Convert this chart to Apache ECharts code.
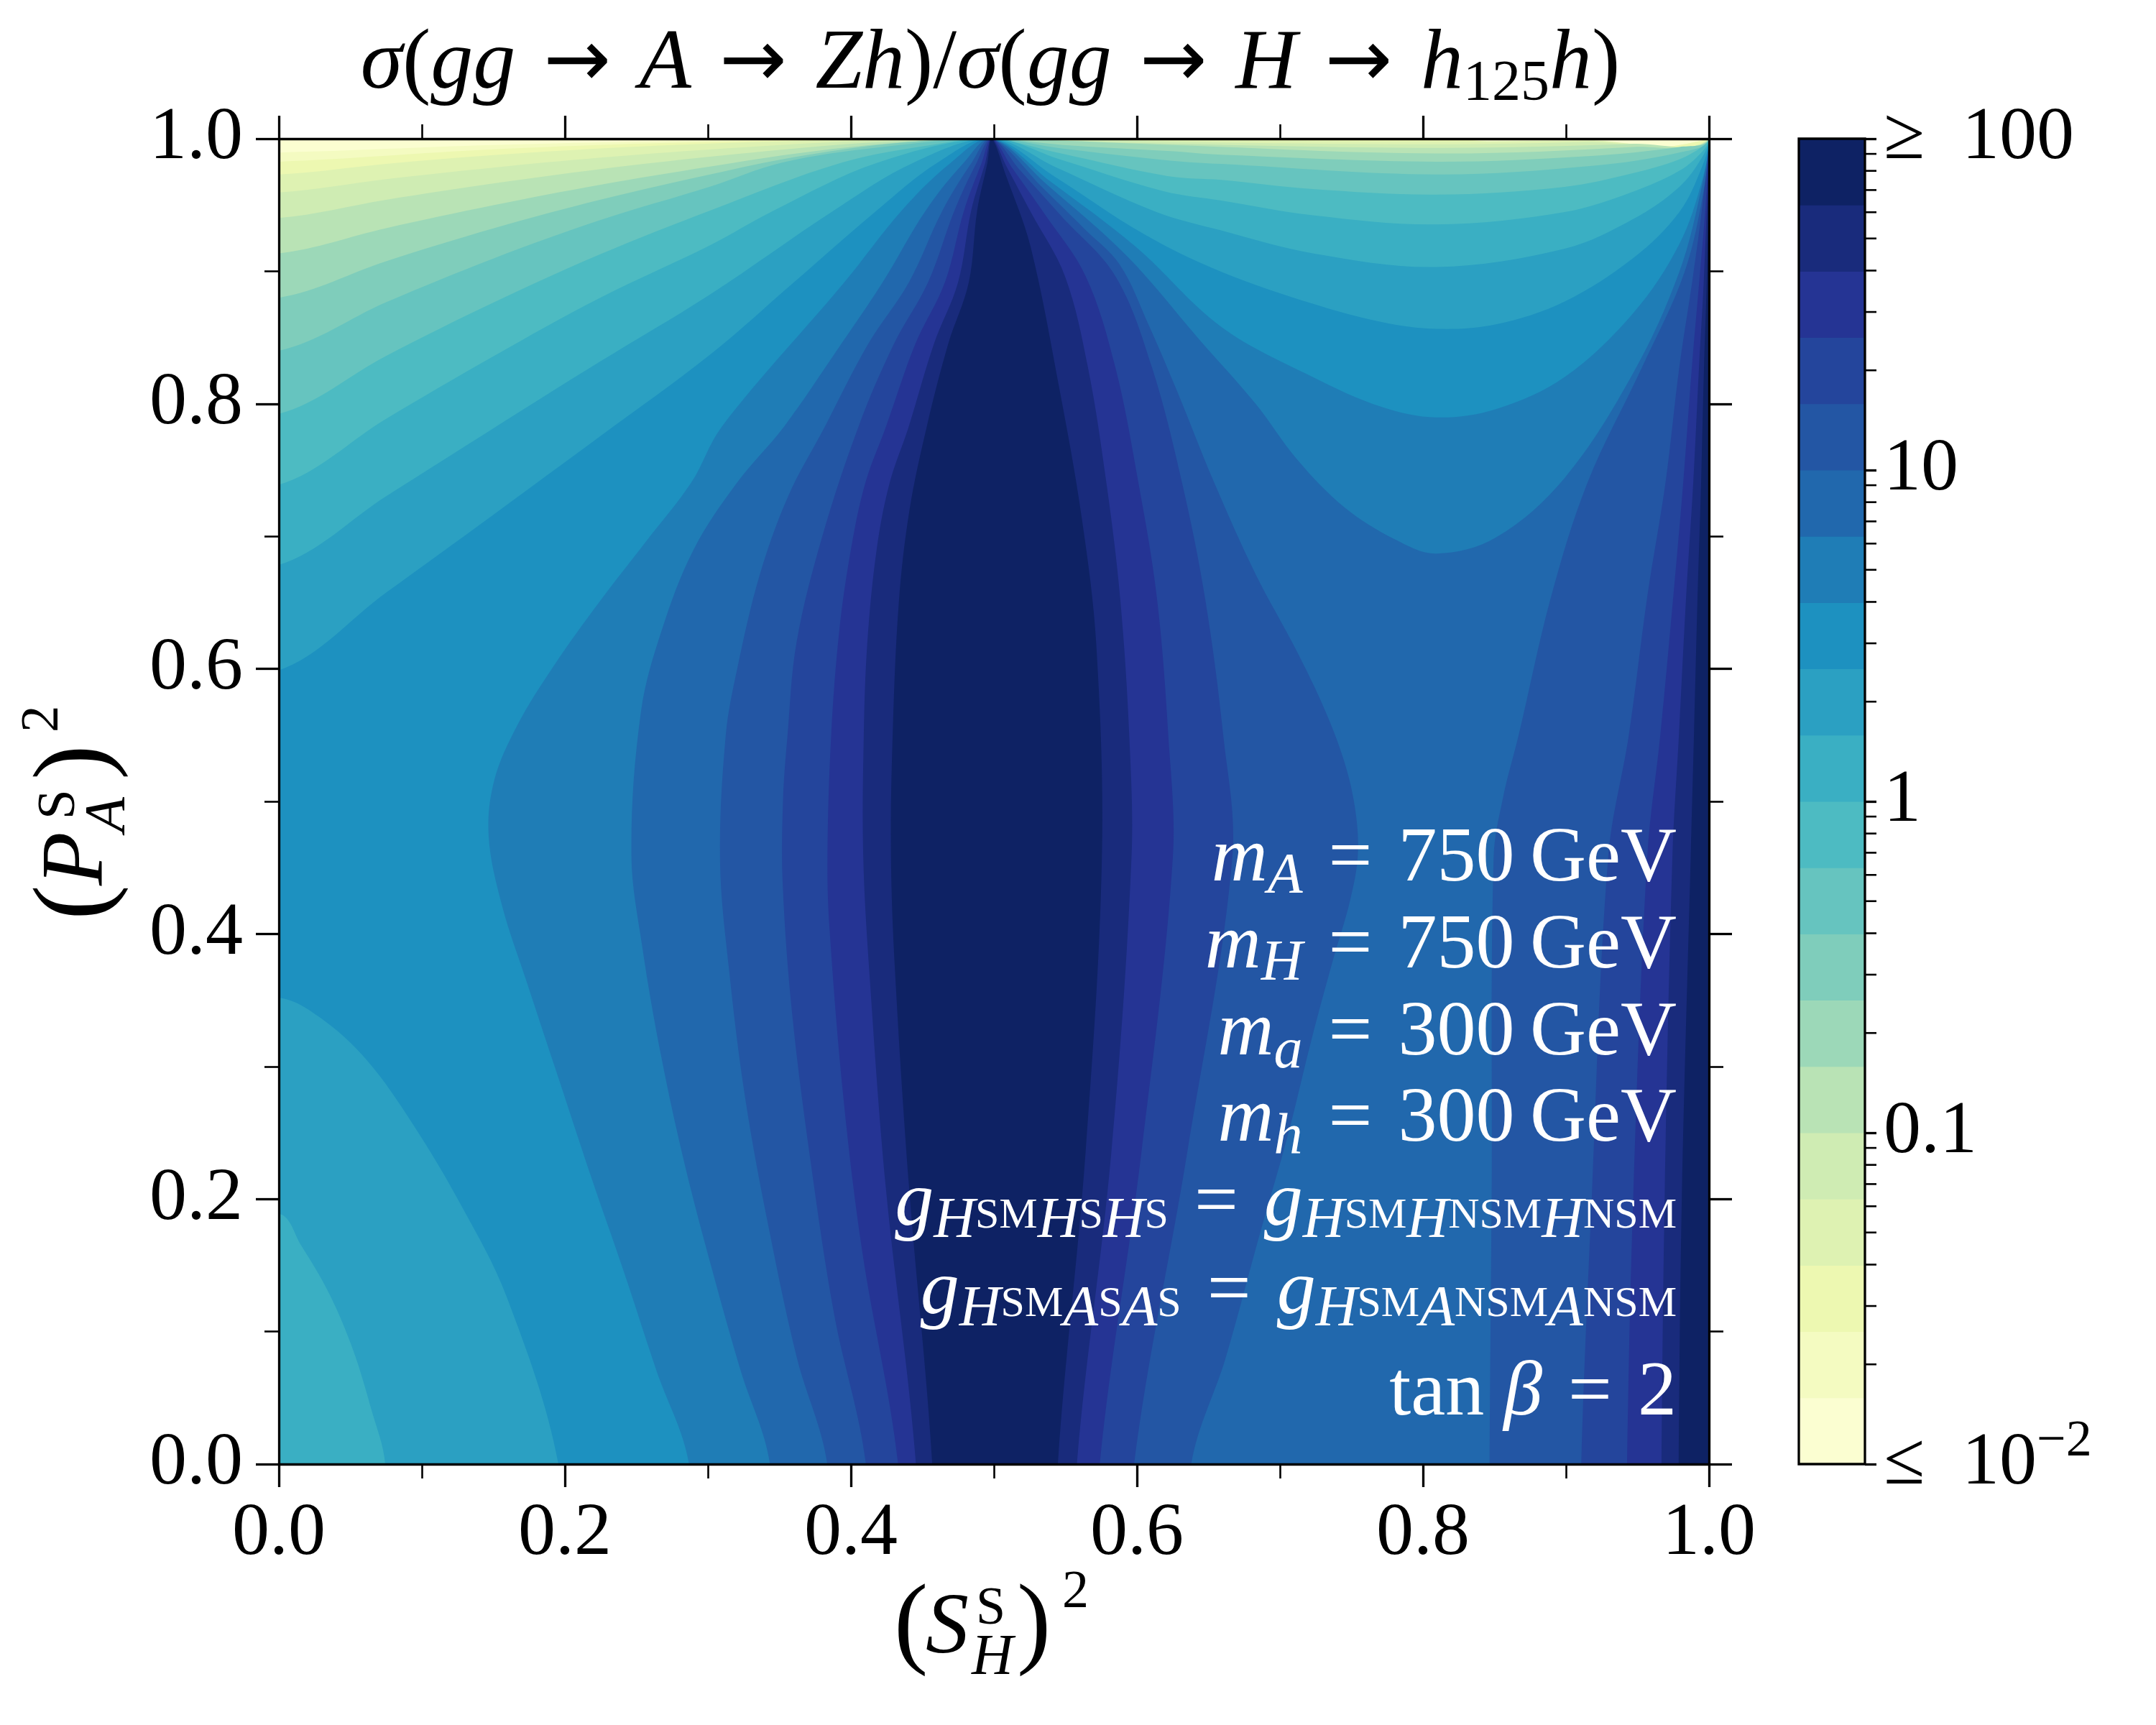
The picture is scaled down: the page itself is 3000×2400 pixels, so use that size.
<!DOCTYPE html>
<html><head><meta charset="utf-8">
<script src="https://cdn.jsdelivr.net/npm/echarts@6/dist/echarts.min.js"></script>
<style>html,body{margin:0;padding:0;background:#fff}#c{width:3000px;height:2400px}</style>
</head><body><div id="c"></div>
<script>
// ---------------- data ----------------
// 20 colour bands of the filled contour plot (lowest -> highest)
const bandColors = ['#fbfed1','#f4fbc1','#edf8b1','#def2b2','#cfecb3','#b9e3b5','#9cd8b8','#7fcdbb','#66c4bf','#4dbbc2',
  '#3aafc3','#2ba0c2','#1d91c0','#1f7db6','#2168ad','#2356a4','#24459c','#253494','#192b7c','#0e2264'];
// contour levels, log10 of the ratio
const cbLevels = [-2,-1.8,-1.6,-1.4,-1.2,-1,-0.8,-0.6,-0.4,-0.2,0,0.2,0.4,0.6,0.8,1,1.2,1.4,1.6,1.8,2];
const cbMinor = [0.02,0.03,0.04,0.05,0.06,0.07,0.08,0.09,0.2,0.3,0.4,0.5,0.6,0.7,0.8,0.9,2,3,4,5,6,7,8,9,20,30,40,50,60,70,80,90];
const cbTickLabels = ['\u2264\u200210','0.1','1','10','\u2265\u2002100'];

// contour k = boundary between band k-1 and band k, as (x, y) points
// left fan: left edge -> singular point (0.5,1)
const L1 = [[0,.9896],[.15,.9952],[.3015,.9986],[.4985,1]];
const L2 = [[0,.9827],[.15,.992],[.3015,.9977],[.4985,1]];
const L3 = [[0,.973],[.075,.981],[.15,.9876],[.225,.9927],[.3015,.9964],[.4,.9992],[.4985,1]];
const L4 = [[0,.9595],[.075,.9695],[.15,.9782],[.225,.9857],[.3015,.9919],[.4,.998],[.4985,1]];
const L5 = [[0,.9402],[.075,.9539],[.15,.9662],[.225,.9771],[.3015,.9864],[.38,.9945],[.44,.9985],[.4985,1]];
const L6 = [[0,.9135],[.075,.9325],[.15,.9498],[.225,.9653],[.3015,.979],[.37,.99],[.44,.9975],[.4985,1]];
const L7 = [[0,.88],[.075,.9075],[.15,.9323],[.225,.954],[.3015,.973],[.36,.986],[.43,.9965],[.4985,1]];
const L8 = [[0,.84],[.075,.8766],[.15,.9096],[.225,.9387],[.3015,.9638],[.3518,.982],[.42,.9935],[.4985,1]];
const L9 = [[0,.7925],[.075,.8361],[.15,.8763],[.225,.9129],[.3015,.9458],[.3936,.982],[.46,.996],[.4985,1]];
const L10 = [[0,.7389],[.075,.7886],[.15,.8358],[.225,.8801],[.3015,.9196],[.346,.9458],[.4188,.982],[.4985,1]];
const L11 = [[0,.6784],[.075,.7302],[.15,.7815],[.225,.8321],[.3015,.8825],[.388,.9458],[.4439,.982],[.4985,1]];
const L12 = [[0,.5988],[.075,.6575],[.15,.7163],[.225,.7757],[.3015,.837],[.36,.8915],[.418,.9458],[.4606,.982],[.4985,1]];
// left of the central strip: bottom edge -> (0.5,1)
const L13 = [[.2868,0],[.264,.0706],[.2412,.1453],[.2183,.2169],[.1954,.2917],[.1725,.3664],[.156,.4217],[.1467,.4737],[.1506,.5158],[.1667,.5573],[.1923,.6023],[.2243,.6507],[.2564,.6956],[.2884,.7406],[.3099,.783],[.3953,.8915],[.4355,.9458],[.47,.982],[.4985,1]];
const L14 = [[.3434,0],[.3229,.0706],[.3033,.1453],[.2837,.2266],[.2673,.308],[.2543,.389],[.2465,.46],[.2532,.5677],[.268,.63],[.29,.69],[.32,.74],[.3534,.783],[.39,.84],[.4221,.8915],[.4523,.9458],[.479,.982],[.4985,1]];
const L15 = [[.3835,0],[.3622,.0803],[.3426,.178],[.3262,.2754],[.3148,.373],[.3085,.455],[.3125,.55],[.3205,.60],[.336,.67],[.356,.73],[.3819,.783],[.412,.845],[.4405,.8915],[.464,.9458],[.4845,.982],[.4985,1]];
const L16 = [[.4105,0],[.3883,.113],[.372,.227],[.3589,.34],[.3523,.438],[.3525,.5],[.3557,.55],[.362,.62],[.38,.70],[.4054,.783],[.43,.845],[.4539,.8915],[.4724,.9458],[.488,.982],[.4985,1]];
const L17 = [[.433,0],[.408,.16],[.3949,.275],[.385,.405],[.3836,.458],[.3862,.55],[.392,.63],[.4,.69],[.41,.74],[.4246,.783],[.445,.845],[.4657,.8915],[.4791,.9458],[.4915,.982],[.4985,1]];
const L18 = [[.4455,0],[.4243,.21],[.4128,.373],[.4086,.46],[.409,.55],[.4115,.62],[.418,.69],[.427,.74],[.4405,.783],[.458,.845],[.4749,.8915],[.4841,.9458],[.494,.982],[.4985,1]];
const L19 = [[.4569,0],[.4406,.21],[.4308,.373],[.428,.46],[.4292,.55],[.4335,.65],[.441,.72],[.4531,.783],[.468,.845],[.4824,.8915],[.4883,.9458],[.4955,.982],[.4985,1]];
// lower-left arcs: left edge -> bottom edge
const A11 = [[0,.189],[.0156,.165],[.035,.129],[.0516,.087],[.0646,.0415],[.0744,0]];
const A12 = [[0,.352],[.0287,.337],[.0613,.305],[.094,.256],[.1266,.197],[.1594,.126],[.1955,0]];
// right of the central strip: bottom edge -> (0.5,1)
const M15 = [[.638,0],[.662,.08],[.685,.17],[.706,.25],[.722,.32],[.737,.38],[.749,.425],[.7545,.46],[.7525,.495],[.745,.53],[.731,.57],[.711,.615],[.683,.6714],[.654,.7406],[.628,.8098],[.608,.86],[.588,.905],[.5633,.932],[.5347,.9623],[.4985,1]];
const M16 = [[.598,0],[.635,.234],[.6667,.4577],[.6603,.5504],[.6475,.6541],[.6315,.7406],[.6106,.8271],[.585,.8962],[.5473,.9414],[.5186,.9758],[.4985,1]];
const M17 = [[.574,0],[.603,.234],[.6251,.4577],[.6219,.5504],[.6139,.6541],[.601,.7406],[.585,.8271],[.5642,.8962],[.5352,.9436],[.5129,.9778],[.4985,1]];
const M18 = [[.558,0],[.582,.234],[.5962,.4577],[.5946,.5504],[.5882,.6541],[.5786,.7406],[.5658,.8271],[.5497,.8962],[.5256,.945],[.5091,.9785],[.4985,1]];
const M19 = [[.5447,0],[.564,.234],[.5755,.458],[.5716,.618],[.5614,.714],[.546,.81],[.5255,.919],[.5085,.972],[.4985,1]];
// U-shaped contours in the upper right: (0.5,1) -> (1,1)
const U3 = [[.4985,1],[.6588,.9988],[.8094,.9979],[.9152,.9988],[1,1]];
const U4 = [[.4985,1],[.6588,.9972],[.8094,.9958],[.9152,.9976],[1,1]];
const U5 = [[.4985,1],[.5946,.9969],[.8094,.9931],[.9472,.9962],[1,1]];
const U6 = [[.4985,1],[.6241,.9953],[.8094,.9889],[.9472,.9938],[1,1]];
const U7 = [[.4985,1],[.5486,.9953],[.6236,.9906],[.6588,.9879],[.8094,.9827],[.9152,.9869],[.9793,.9938],[1,1]];
const U8 = [[.4985,1],[.5482,.9925],[.6231,.9835],[.6588,.981],[.8094,.973],[.9152,.9792],[.9793,.9896],[1,1]];
const U9 = [[.4985,1],[.5476,.9887],[.6214,.9718],[.6588,.9689],[.7229,.962],[.8094,.9578],[.8991,.9637],[.9472,.9741],[.9793,.9844],[.9953,.994],[1,1]];
const U10 = [[.4985,1],[.5465,.9843],[.6186,.9604],[.6588,.9533],[.7229,.9422],[.8094,.9353],[.8991,.9447],[.9472,.9602],[.9793,.9758],[.9953,.9903],[1,1]];
const U11 = [[.4985,1],[.5442,.978],[.613,.945],[.6588,.9308],[.7229,.9135],[.8094,.9032],[.8991,.917],[.9472,.9395],[.9793,.9637],[.9953,.9862],[1,1]];
const U12 = [[.4985,1],[.5417,.972],[.605,.928],[.6588,.8997],[.7229,.8755],[.7709,.8617],[.8094,.8565],[.851,.8599],[.8991,.8772],[.9472,.9101],[.9793,.9447],[.9953,.9792],[1,1]];
const U13 = [[.4985,1],[.5392,.968],[.599,.9186],[.6588,.8582],[.7229,.8202],[.7709,.7977],[.8094,.7897],[.851,.796],[.8991,.8202],[.9472,.8686],[.9793,.9205],[.9953,.9689],[1,1]];
const U14 = [[.4985,1],[.5372,.9653],[.5934,.911],[.6432,.849],[.683,.80],[.712,.758],[.745,.722],[.78,.698],[.8094,.687],[.851,.6991],[.8991,.7441],[.9472,.8236],[.9793,.8997],[.9953,.9654],[1,1]];
// near the right edge: bottom edge -> (1,1)
const E15 = [[.8466,0],[.848,.2],[.8494,.4577],[.856,.503],[.867,.5504],[.8895,.6541],[.9151,.7406],[.953,.8271],[.983,.8997],[.997,.9654],[1,1]];
const E16 = [[.9107,0],[.918,.2],[.9295,.4577],[.944,.5504],[.9568,.6541],[.9696,.7406],[.9792,.8271],[.9888,.8962],[.9952,.9481],[1,1]];
const E17 = [[.9427,0],[.947,.2],[.9568,.4577],[.966,.5504],[.975,.6541],[.982,.7406],[.988,.8271],[.9935,.8962],[.9975,.9481],[1,1]];
const E18 = [[.9668,0],[.969,.2],[.9744,.4577],[.979,.5504],[.984,.6541],[.989,.7406],[.993,.8271],[.9965,.8962],[1,1]];
const E19 = [[.9788,0],[.981,.2],[.9872,.4577],[.9895,.5504],[.992,.6541],[.9945,.7406],[.9965,.8271],[.9985,.8962],[1,1]];

// ---------------- build superlevel regions ----------------
const Lc = [null,L1,L2,L3,L4,L5,L6,L7,L8,L9,L10,L11,L12,L13,L14,L15,L16,L17,L18,L19];
const Uc = {3:U3,4:U4,5:U5,6:U6,7:U7,8:U8,9:U9,10:U10,11:U11,12:U12,13:U13,14:U14};
const Mc = {15:M15,16:M16,17:M17,18:M18,19:M19};
const Ec = {15:E15,16:E16,17:E17,18:E18,19:E19};
const Ac = {11:A11,12:A12};
const PAD = 0.08;
function buildRegions(){
  const regs = [];
  const rightOut = [[1, 1 + PAD], [1 + PAD, 1 + PAD], [1 + PAD, -PAD]];
  for (let k = 1; k <= 19; k++) {
    const color = bandColors[k];
    const L = Lc[k];
    if (k >= 15) {
      const M = Mc[k], E = Ec[k];
      regs.push({color, pts: [[L[0][0], -PAD], ...L, ...M.slice(0, -1).reverse(), [M[0][0], -PAD]]});
      regs.push({color, pts: [[E[0][0], -PAD], ...E, ...rightOut]});
    } else {
      const pts = [];
      const fromLeft = L[0][0] === 0;
      if (fromLeft) pts.push([-PAD, L[0][1]]); else pts.push([L[0][0], -PAD]);
      pts.push(...L);
      if (Uc[k]) pts.push(...Uc[k].slice(1)); else pts.push([0.75, 1.004], [1, 1]);
      pts.push(...rightOut);
      if (Ac[k]) {
        const a = Ac[k];
        pts.push([a[a.length - 1][0], -PAD], ...a.slice().reverse(), [-PAD, a[0][1]]);
      } else if (fromLeft) pts.push([-PAD, -PAD]);
      regs.push({color, pts});
    }
  }
  return regs;
}
const regions = buildRegions();

// ---------------- chart ----------------
const F = 'Liberation Serif';
const chart = echarts.init(document.getElementById('c'), null, {renderer: 'canvas'});

function mainAxis(pos, labels, isX) {
  return {
    type: 'value', gridIndex: 0, min: 0, max: 1, interval: 0.2, position: pos, z: 10,
    axisLine: {show: true, onZero: false, lineStyle: {color: '#000', width: 3.3}},
    axisTick: {show: true, length: 32, lineStyle: {color: '#000', width: 3.3}},
    minorTick: {show: true, splitNumber: 2, length: 20, lineStyle: {color: '#000', width: 2.6}},
    splitLine: {show: false}, minorSplitLine: {show: false},
    axisLabel: {show: labels, margin: isX ? 46 : 50, fontFamily: F, fontSize: 104, color: '#000',
      showMinLabel: true, showMaxLabel: true, formatter: v => v.toFixed(1)}
  };
}

const annRich = {
  mi: {fontFamily: F, fontStyle: 'italic', fontSize: 108, lineHeight: 121, fill: '#fff'},
  rm: {fontFamily: F, fontSize: 108, lineHeight: 121, fill: '#fff'},
  sub: {fontFamily: F, fontStyle: 'italic', fontSize: 80, height: 72, verticalAlign: 'bottom', fill: '#fff'},
  ss: {fontFamily: F, fontSize: 60, height: 88, verticalAlign: 'bottom', fill: '#fff'}
};
const EQ = ' \u200a=\u200a ';
const annLines = [
  '{mi|m}{sub|A}{rm|' + EQ + '750\u2009GeV}',
  '{mi|m}{sub|H}{rm|' + EQ + '750\u2009GeV}',
  '{mi|m}{sub|a}{rm|' + EQ + '300\u2009GeV}',
  '{mi|m}{sub|h}{rm|' + EQ + '300\u2009GeV}',
  '{mi|g}{sub|H}{ss|SM}{sub|H}{ss|S}{sub|H}{ss|S}{rm|' + EQ + '}{mi|g}{sub|H}{ss|SM}{sub|H}{ss|NSM}{sub|H}{ss|NSM}',
  '{mi|g}{sub|H}{ss|SM}{sub|A}{ss|S}{sub|A}{ss|S}{rm|' + EQ + '}{mi|g}{sub|H}{ss|SM}{sub|A}{ss|NSM}{sub|A}{ss|NSM}',
  '{rm|tan }{mi|\u03b2}{rm|' + EQ + '2}'
];
const annBaselines = [1233, 1354.6, 1475.7, 1595.6, 1712.5, 1835.4, 1976.3];

function txt(x, y, text, size, italic) {
  return {type: 'text', x, y, silent: true, style: {text, fontFamily: F, fontSize: size,
    fontStyle: italic ? 'italic' : 'normal', fill: '#000', align: 'left', verticalAlign: 'middle'}};
}

const graphics = [];
// title
const AR = '{rm| \u200a}{ar|\u2192}{rm|\u200a }';
graphics.push({type: 'text', x: 1378, y: 91, silent: true, style: {
  text: '{mi|\u03c3}{rm|(}{mi|gg}' + AR + '{mi|A}' + AR + '{mi|Zh}{rm|)/}{mi|\u03c3}{rm|(}{mi|gg}' + AR + '{mi|H}' + AR + '{mi|h}{sub|125}{mi|h}{rm|)}',
  align: 'center', verticalAlign: 'middle', fill: '#000',
  rich: {
    mi: {fontFamily: F, fontStyle: 'italic', fontSize: 118, lineHeight: 136, fill: '#000'},
    rm: {fontFamily: F, fontSize: 118, lineHeight: 136, fill: '#000'},
    ar: {fontFamily: 'DejaVu Sans', fontSize: 112, lineHeight: 136, fill: '#000'},
    sub: {fontFamily: F, fontSize: 80, height: 82, verticalAlign: 'bottom', fill: '#000'}
  }}});
// annotation block
annLines.forEach((t, i) => {
  graphics.push({type: 'text', x: 2333, y: annBaselines[i] - 36.7, silent: true, z: 20,
    style: {text: t, rich: annRich, align: 'right', verticalAlign: 'middle', fill: '#fff'}});
});
// x axis title (S_H^S)^2
graphics.push({type: 'group', silent: true, children: [
  txt(1244, 2265, '(', 142, false),
  txt(1288, 2267, 'S', 120, true),
  txt(1358, 2240, 'S', 74, false),
  txt(1352, 2308, 'H', 80, true),
  txt(1415, 2265, ')', 142, false),
  txt(1478, 2217, '2', 74, false)
]});
// y axis title (P_A^S)^2, rotated
graphics.push({type: 'group', x: 150, y: 1155, rotation: Math.PI / 2, silent: true, children: [
  txt(-125, -41.6, '(', 146, false),
  txt(-77, -40, 'P', 122, true),
  txt(15, -67, 'S', 75, false),
  txt(-3, 2, 'A', 80, true),
  txt(70, -41.6, ')', 146, false),
  txt(136, -90, '2', 75, false)
]});

const option = {
  animation: false,
  backgroundColor: '#fff',
  grid: [
    {left: 388, top: 193, width: 1990, height: 1844, show: true, backgroundColor: bandColors[0], borderWidth: 0, containLabel: false, outerBoundsMode: 'none'},
    {left: 2503, top: 193, width: 92, height: 1844, show: false, containLabel: false, outerBoundsMode: 'none'}
  ],
  xAxis: [
    mainAxis('bottom', true, true),
    mainAxis('top', false, true),
    {type: 'value', gridIndex: 1, min: 0, max: 1, show: false}
  ],
  yAxis: [
    mainAxis('left', true, false),
    mainAxis('right', false, false),
    {type: 'value', gridIndex: 1, min: -2, max: 2, interval: 1, position: 'right', z: 10,
      axisLine: {show: false, onZero: false},
      axisTick: {show: true, length: 16, lineStyle: {color: '#000', width: 3.3}},
      splitLine: {show: false},
      axisLabel: {show: true, margin: 26, fontFamily: F, fontSize: 104, color: '#000', showMinLabel: true, showMaxLabel: true,
        formatter: v => {
          const i = Math.round(v) + 2;
          if (i === 0) return '{a|' + cbTickLabels[0] + '}{sup|\u22122}';
          return '{a|' + cbTickLabels[i] + '}';
        },
        rich: {
          a: {fontFamily: F, fontSize: 104, lineHeight: 112, color: '#000'},
          sup: {fontFamily: F, fontSize: 72, height: 50, verticalAlign: 'top', color: '#000'}
        }}}
  ],
  series: [
    {type: 'custom', xAxisIndex: 0, yAxisIndex: 0, silent: true, data: [[0]], z: 2,
      renderItem: (params, api) => {
        const cs = params.coordSys;
        return {type: 'group', clipPath: {type: 'rect', shape: {x: cs.x, y: cs.y, width: cs.width, height: cs.height}},
          children: regions.map(r => ({type: 'polygon', shape: {points: r.pts.map(p => api.coord(p)), smooth: 0.35},
            style: {fill: r.color}}))};
      }},
    {type: 'custom', xAxisIndex: 2, yAxisIndex: 2, silent: true, data: cbLevels.slice(0, -1).map((v, i) => [i]),
      renderItem: (params, api) => {
        const i = params.dataIndex;
        const p0 = api.coord([0, cbLevels[i]]), p1 = api.coord([1, cbLevels[i + 1]]);
        return {type: 'rect', shape: {x: p0[0], y: p1[1] - 0.5, width: p1[0] - p0[0], height: p0[1] - p1[1] + 1},
          style: {fill: bandColors[i]}};
      }},
    {type: 'custom', xAxisIndex: 2, yAxisIndex: 2, silent: true, data: cbMinor.map(v => [v]), z: 5,
      renderItem: (params, api) => {
        const v = cbMinor[params.dataIndex];
        const p = api.coord([1, Math.log10(v)]);
        return {type: 'line', shape: {x1: p[0], y1: p[1], x2: p[0] + 16, y2: p[1]}, style: {stroke: '#000', lineWidth: 2.6}};
      }},
    {type: 'custom', xAxisIndex: 2, yAxisIndex: 2, silent: true, data: [[0]], z: 6,
      renderItem: (params, api) => {
        const a = api.coord([0, -2]), b = api.coord([1, 2]);
        return {type: 'rect', shape: {x: a[0], y: b[1], width: b[0] - a[0], height: a[1] - b[1]},
          style: {fill: 'none', stroke: '#000', lineWidth: 3.3}};
      }}
  ],
  graphic: graphics
};
chart.setOption(option);
</script></body></html>
